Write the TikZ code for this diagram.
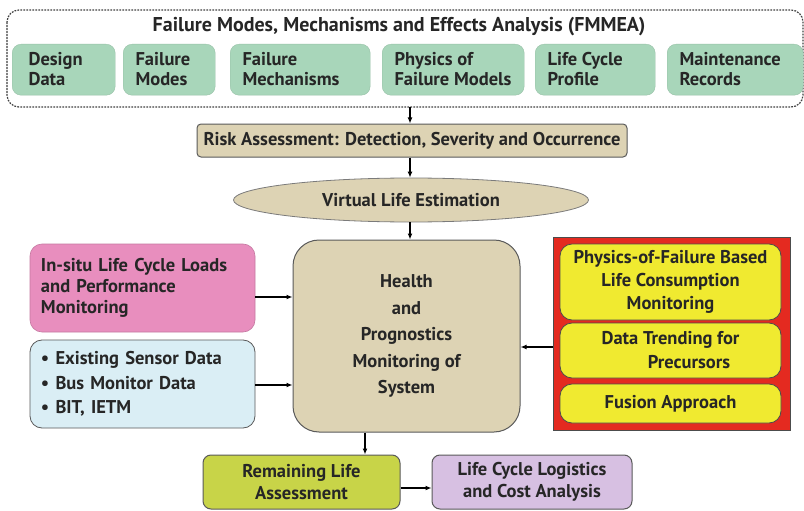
\documentclass[tikz,border=0pt]{standalone}
\usepackage{fontspec}
\setmainfont{PT Sans}
\usetikzlibrary{shapes.geometric,arrows.meta}
\definecolor{mint}{RGB}{168,214,186}
\definecolor{tan}{RGB}{221,211,180}
\definecolor{pinkc}{RGB}{232,142,190}
\definecolor{bluec}{RGB}{218,238,245}
\definecolor{redc}{RGB}{228,42,32}
\definecolor{yel}{RGB}{240,234,48}
\definecolor{lime}{RGB}{200,212,72}
\definecolor{lilac}{RGB}{215,192,226}
\definecolor{edge}{RGB}{90,90,90}
\tikzset{
  txt/.style={font=\bfseries\fontsize{18.5}{20}\selectfont, text=black!85},
  gbox/.style={fill=mint, draw=mint!90!black, line width=0.4pt, rounded corners=9pt, inner sep=0pt, anchor=north west},
  cbox/.style={txt, draw=edge, line width=1pt, rounded corners=6pt, align=center, inner sep=0pt},
  ybox/.style={txt, fill=yel, draw=black!70, line width=0.8pt, rounded corners=12pt, align=center, inner sep=0pt},
  arr/.style={-{Latex[length=6pt,width=5pt]}, line width=1.6pt, black},
}
\begin{document}
\begin{tikzpicture}[x=1pt,y=-1pt]
\useasboundingbox (0,0) rectangle (804,511);
\fill[white] (0,0) rectangle (804,511);
% FMMEA dashed frame
\draw[black!75, line width=1.2pt, dash pattern=on 1.8pt off 1.2pt, rounded corners=12pt] (7,10) rectangle (803,107);
\node[txt, font=\bfseries\fontsize{20}{22}\selectfont] (title) at (399,27) {Failure Modes, Mechanisms and Effects Analysis (FMMEA)};
\coordinate (fbot) at (410,107);
\node[gbox, minimum width=103, minimum height=51] (dd) at (12,44) {};
\node[txt, anchor=west, align=left] (ddt) at (25,69) {Design\\Data};
\node[gbox, minimum width=92, minimum height=51] (fm) at (123,44) {};
\node[txt, anchor=west, align=left] (fmt) at (132,69) {Failure\\Modes};
\node[gbox, minimum width=140, minimum height=51] (fme) at (230,44) {};
\node[txt, anchor=west, align=left] (fmet) at (239,69) {Failure\\Mechanisms};
\node[gbox, minimum width=142, minimum height=51] (pf) at (382,44) {};
\node[txt, anchor=west, align=left] (pft) at (391,69) {Physics of\\Failure Models};
\node[gbox, minimum width=120, minimum height=51] (lc) at (535,44) {};
\node[txt, anchor=west, align=left] (lct) at (544,69) {Life Cycle\\Profile};
\node[gbox, minimum width=136, minimum height=51] (mr) at (667,44) {};
\node[txt, anchor=west, align=left] (mrt) at (676,69) {Maintenance\\Records};
% Risk
\node[cbox, fill=tan, minimum width=430, minimum height=33, rounded corners=4pt] (risk) at (412,140.5) {Risk Assessment: Detection, Severity and Occurrence};
% ellipse
\node[txt, ellipse, fill=tan, draw=edge!80, line width=0.8pt, minimum width=355, minimum height=44, inner sep=0pt] (vle) at (411,200) {Virtual Life Estimation};
% Health
\node[cbox, fill=tan, minimum width=227, minimum height=192, rounded corners=26pt, font=\bfseries\fontsize{18.5}{26.5}\selectfont] (hpm) at (406.5,336) {Health\\and\\Prognostics\\Monitoring of\\System};
% pink
\node[txt, fill=pinkc, draw=pinkc!85!black, line width=0.6pt, rounded corners=12pt, minimum width=225, minimum height=88, text width=203, align=left, inner sep=0pt, font=\bfseries\fontsize{18.5}{21}\selectfont] (insitu) at (142.5,288) {In-situ Life Cycle Loads\\and Performance\\Monitoring};
% blue
\node[txt, fill=bluec, draw=edge, line width=0.8pt, rounded corners=12pt, minimum width=225, minimum height=88, text width=203, align=left, inner sep=0pt, font=\bfseries\fontsize{18.5}{24.5}\selectfont] (sensor) at (142.5,384) {\textbullet\ Existing Sensor Data\\\textbullet\ Bus Monitor Data\\\textbullet\ BIT, IETM};
% red box
\node[fill=redc, draw=black!70, line width=0.8pt, minimum width=237, minimum height=193, inner sep=0pt] (red) at (671.5,333.5) {};
\node[ybox, minimum width=221, minimum height=76, font=\bfseries\fontsize{18.5}{23}\selectfont] (pof) at (670.5,282) {Physics-of-Failure Based\\Life Consumption\\Monitoring};
\node[ybox, minimum width=221, minimum height=55, font=\bfseries\fontsize{18.5}{24}\selectfont] (trend) at (670.5,350.5) {Data Trending for\\\hspace*{2em}Precursors};
\node[ybox, minimum width=221, minimum height=39] (fusion) at (670.5,403.5) {Fusion Approach};
% bottom
\node[cbox, fill=lime, minimum width=197, minimum height=54, rounded corners=8pt, font=\bfseries\fontsize{18.5}{22.5}\selectfont] (rla) at (301.5,482) {Remaining Life\\Assessment};
\node[cbox, fill=lilac, minimum width=200, minimum height=54, rounded corners=8pt, font=\bfseries\fontsize{18.5}{22.5}\selectfont] (lcl) at (532,482) {Life Cycle Logistics\\and Cost Analysis};
% arrows
\draw[arr] (fbot) -- (risk.north -| fbot);
\draw[arr] (risk.south -| fbot) -- (vle.north -| fbot);
\draw[arr] (vle.south -| fbot) -- (hpm.north -| fbot);
\draw[arr] (insitu.east |- 0,297) -- (hpm.west |- 0,297);
\draw[arr] (sensor.east |- 0,385) -- (hpm.west |- 0,385);
\draw[arr] (red.west |- 0,347) -- (hpm.east |- 0,347);
\draw[arr] (hpm.south -| 365,0) -- (rla.north -| 365,0);
\draw[arr] (rla.east |- 0,488) -- (lcl.west |- 0,488);
\end{tikzpicture}
\end{document}
